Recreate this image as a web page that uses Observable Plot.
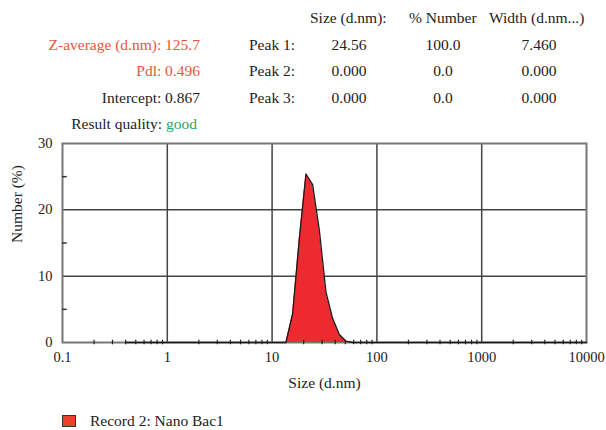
<!DOCTYPE html>
<html>
<head>
<meta charset="utf-8">
<script src="https://cdn.jsdelivr.net/npm/d3@7"></script>
<script src="https://cdn.jsdelivr.net/npm/@observablehq/plot@0.6"></script>
<style>
  body { margin: 0; background: #fff; }
  #wrap { position: relative; width: 606px; height: 430px; font-family: "Liberation Serif", "DejaVu Serif", serif; font-size: 15.5px; color: #222; }
  .t { position: absolute; line-height: 1; white-space: nowrap; }
  .l { transform: translateY(-50%); }
  .r { transform: translate(-100%, -50%); }
  .c { transform: translate(-50%, -50%); }
  #chart { position: absolute; left: 0; top: 130px; }
</style>
</head>
<body>
<div id="wrap"></div>
<script>
// ---- data ----
const colHeaders = ["Size (d.nm):", "% Number", "Width (d.nm...)"];
const summaryLabels = ["Z-average (d.nm): 125.7", "Pdl: 0.496", "Intercept: 0.867"];
const peakNames = ["Peak 1:", "Peak 2:", "Peak 3:"];
const peakSize = ["24.56", "0.000", "0.000"];
const peakNumber = ["100.0", "0.0", "0.0"];
const peakWidth = ["7.460", "0.000", "0.000"];
const qualityLabel = "Result quality: ";
const qualityValue = "good";
const legendLabel = "Record 2: Nano Bac1";

const sizes = [0.4, 13.54, 15.69, 18.17, 21.04, 24.36, 28.21, 32.67, 37.84, 43.82, 50.75, 58.77, 10000];
const numberPct = [0, 0, 4.3, 15.6, 25.4, 23.8, 17.0, 7.6, 3.6, 1.2, 0.2, 0, 0];

const xTicks = [0.1, 1, 10, 100, 1000, 10000];
const xTickLabels = ["0.1", "1", "10", "100", "1000", "10000"];
const yTicks = [0, 10, 20, 30];
const yMinor = [5, 15, 25];

// ---- header ----
const wrap = document.getElementById("wrap");
function addText(txt, x, y, cls, color) {
  const s = document.createElement("div");
  s.className = "t " + cls;
  s.style.left = x + "px";
  s.style.top = y + "px";
  if (color) s.style.color = color;
  s.textContent = txt;
  wrap.appendChild(s);
  return s;
}
const red = "#e9543e";
const headX = [310, 409, 489];
colHeaders.forEach((h, i) => addText(h, headX[i], 18, "l"));
const rowY = [45, 71, 98];
summaryLabels.forEach((s, i) => addText(s, 200, rowY[i], "r", i < 2 ? red : null));
peakNames.forEach((p, i) => {
  addText(p, 249, rowY[i], "l");
  addText(peakSize[i], 349, rowY[i], "c");
  addText(peakNumber[i], 443, rowY[i], "c");
  addText(peakWidth[i], 539, rowY[i], "c");
});
const q = addText(qualityLabel, 197, 124, "r");
q.innerHTML = qualityLabel + '<span style="color:#1aa86a">' + qualityValue + '</span>';

// ---- chart ----
const data = sizes.map((s, i) => ({size: s, pct: numberPct[i]}));
const minorX = [];
for (const dec of [0.1, 1, 10, 100, 1000]) for (let k = 2; k <= 9; k++) minorX.push(dec * k);

const chart = Plot.plot({
  width: 606,
  height: 280,
  marginTop: 13,
  marginBottom: 68,
  marginLeft: 62,
  marginRight: 20,
  style: {fontFamily: "'Liberation Serif', 'DejaVu Serif', serif", fontSize: "14.5px", color: "#222", background: "transparent", overflow: "visible"},
  x: {type: "log", domain: [0.1, 10000]},
  y: {domain: [0, 30]},
  marks: [
    Plot.ruleX(xTicks.slice(1, -1), {stroke: "#444", strokeWidth: 1.5}),
    Plot.ruleY([10, 20], {stroke: "#444", strokeWidth: 1.5}),
    Plot.frame({stroke: "#777", strokeWidth: 2}),
    Plot.areaY(data, {x: "size", y: "pct", fill: "#ec2a30", curve: "linear"}),
    Plot.line(data, {x: "size", y: "pct", stroke: "#1a1a1a", strokeWidth: 1.3, curve: "linear"}),
    Plot.ruleX(minorX, {y1: -0.35, y2: 0.35, stroke: "#222", strokeWidth: 1.2}),
    Plot.ruleY(yMinor, {x1: 0.1, x2: 0.111, stroke: "#333", strokeWidth: 1.5}),
    Plot.axisX(xTicks, {tickSize: 0, tickPadding: 9, tickFormat: d => xTickLabels[xTicks.indexOf(d)], label: null}),
    Plot.axisY(yTicks, {tickSize: 0, tickPadding: 10, label: null}),
    Plot.text(["Size (d.nm)"], {frameAnchor: "bottom", dy: 41, text: d => d, fontSize: 15.5, lineAnchor: "middle", fill: "#222"}),
    Plot.text(["Number (%)"], {frameAnchor: "left", dx: -45, rotate: -90, text: d => d, fontSize: 15.5, lineAnchor: "middle", fill: "#222"})
  ]
});
chart.id = "chart";
wrap.appendChild(chart);

// ---- legend ----
const sw = document.createElement("div");
sw.style.cssText = "position:absolute;left:62px;top:415px;width:12px;height:10px;background:#e8412c;border:1.5px solid #333;";
wrap.appendChild(sw);
addText(legendLabel, 90, 421, "l");
</script>
</body>
</html>
